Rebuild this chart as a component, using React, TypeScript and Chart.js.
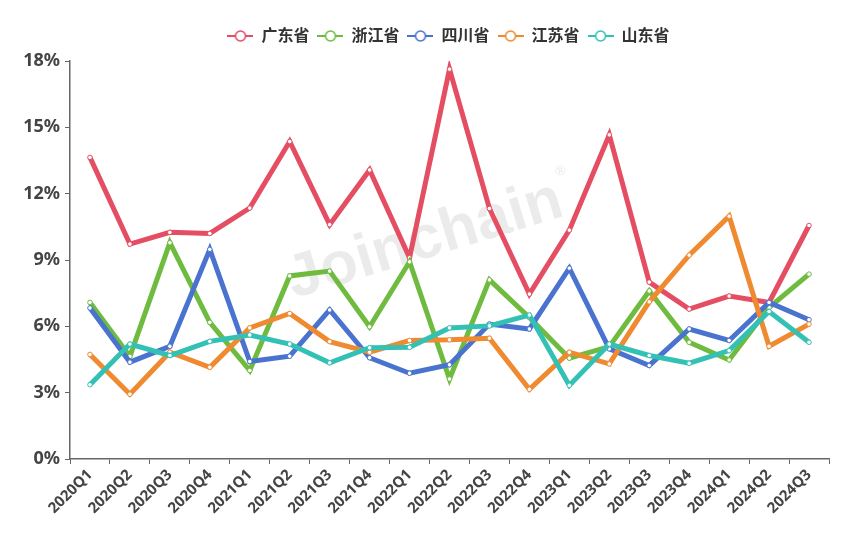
import { useEffect, useRef } from "react";
import { Chart, registerables } from "chart.js";
import type { Plugin as ChartPlugin, LegendItem } from "chart.js";

Chart.register(...registerables);

const quarters = [
    "2020Q1", "2020Q2", "2020Q3", "2020Q4",
    "2021Q1", "2021Q2", "2021Q3", "2021Q4",
    "2022Q1", "2022Q2", "2022Q3", "2022Q4",
    "2023Q1", "2023Q2", "2023Q3", "2023Q4",
    "2024Q1", "2024Q2", "2024Q3",
];

const provinces = ["广东省", "浙江省", "四川省", "江苏省", "山东省"];
const lineColors = ["#e44d62", "#6fbb3f", "#4a72cf", "#ef8a31", "#33c1b6"];

const guangdong = [13.64, 9.72, 10.25, 10.2, 11.35, 14.36, 10.6, 13.07, 9.1, 17.63, 11.33, 7.46, 10.35, 14.66, 8.0, 6.78, 7.37, 7.08, 10.56];
const zhejiang = [7.08, 4.64, 9.78, 6.18, 4.0, 8.28, 8.5, 5.98, 8.92, 3.62, 8.1, 6.4, 4.56, 5.08, 7.6, 5.28, 4.48, 6.85, 8.36];
const sichuan = [6.83, 4.38, 5.1, 9.48, 4.41, 4.65, 6.74, 4.58, 3.88, 4.26, 6.1, 5.88, 8.63, 4.98, 4.23, 5.88, 5.36, 7.08, 6.3];
const jiangsu = [4.73, 2.93, 4.83, 4.15, 5.93, 6.58, 5.31, 4.83, 5.36, 5.39, 5.46, 3.15, 4.83, 4.3, 7.11, 9.22, 10.98, 5.1, 6.1];
const shandong = [3.36, 5.2, 4.68, 5.32, 5.61, 5.2, 4.35, 5.03, 5.05, 5.93, 6.02, 6.51, 3.33, 5.2, 4.68, 4.33, 4.9, 6.67, 5.28];

const seriesValues = [guangdong, zhejiang, sichuan, jiangsu, shandong];

const FONT = "'Noto Sans', 'Noto Sans CJK SC', sans-serif";

function makeLegendIcon(color: string): HTMLCanvasElement {
    const c = document.createElement("canvas");
    c.width = 26;
    c.height = 14;
    const ctx = c.getContext("2d")!;
    ctx.strokeStyle = color;
    ctx.lineWidth = 2;
    ctx.beginPath();
    ctx.moveTo(0, 7);
    ctx.lineTo(26, 7);
    ctx.stroke();
    ctx.beginPath();
    ctx.arc(13, 7, 5, 0, Math.PI * 2);
    ctx.fillStyle = "#fff";
    ctx.fill();
    ctx.lineWidth = 1.6;
    ctx.stroke();
    return c;
}

// nudge the legend so it sits where the original one does
const legendShiftPlugin: ChartPlugin = {
    id: "legendShift",
    afterLayout: (chart: Chart) => {
        const legend = chart.legend;
        if (!legend) return;
        legend.left += 34;
        legend.right += 34;
        legend.top -= 7;
        legend.bottom -= 7;
    }
};

const watermarkPlugin: ChartPlugin = {
    id: "watermark",
    beforeDatasetsDraw: (chart: Chart) => {
        const ctx = chart.ctx;
        ctx.save();
        ctx.translate(430, 257);
        ctx.rotate(-17 * Math.PI / 180);
        ctx.fillStyle = "rgba(0,0,0,0.08)";
        ctx.font = "bold 61px 'Liberation Sans', sans-serif";
        ctx.textAlign = "center";
        ctx.textBaseline = "alphabetic";
        ctx.fillText("Joinchain", 0, 0);
        ctx.font = "bold 14px 'Liberation Sans', sans-serif";
        ctx.fillText("®", 150, -40);
        ctx.restore();
    }
};

function App() {
    const canvasRef = useRef<HTMLCanvasElement>(null);

    useEffect(() => {
        if (!canvasRef.current) {
            return;
        }
        const icons = lineColors.map(makeLegendIcon);
        const chart = new Chart(canvasRef.current, {
            type: "line",
            data: {
                labels: quarters,
                datasets: provinces.map((name, i) => ({
                    label: name,
                    data: seriesValues[i],
                    borderColor: lineColors[i],
                    backgroundColor: lineColors[i],
                    borderWidth: 5,
                    tension: 0,
                    pointRadius: 2.3,
                    pointBorderWidth: 1,
                    pointBackgroundColor: "#fff",
                    pointBorderColor: lineColors[i],
                    order: provinces.length - i,
                })),
            },
            options: {
                animation: false,
                responsive: true,
                maintainAspectRatio: false,
                layout: {
                    padding: { top: 27, right: 38, bottom: 0, left: 0 }
                },
                scales: {
                    x: {
                        offset: true,
                        afterFit: (scale) => {
                            scale.height = 84;
                        },
                        grid: {
                            offset: true,
                            drawOnChartArea: false,
                            drawTicks: true,
                            tickLength: 5,
                            color: "#666",
                        },
                        border: { display: true, color: "#666", width: 1.5 },
                        ticks: {
                            minRotation: 45,
                            maxRotation: 45,
                            autoSkip: false,
                            padding: 2,
                            color: "#444",
                            font: { family: FONT, size: 15, weight: "bold" },
                        }
                    },
                    y: {
                        min: 0,
                        max: 18,
                        afterFit: (scale) => {
                            scale.width = 70;
                        },
                        grid: {
                            drawOnChartArea: false,
                            drawTicks: true,
                            tickLength: 5,
                            color: "#666",
                        },
                        border: { display: true, color: "#666", width: 1.5 },
                        ticks: {
                            stepSize: 3,
                            padding: 5,
                            color: "#444",
                            font: { family: FONT, size: 18, weight: "bold" },
                            callback: (v) => `${v}%`,
                        }
                    }
                },
                plugins: {
                    tooltip: { enabled: false },
                    legend: {
                        display: true,
                        position: "top",
                        labels: {
                            usePointStyle: true,
                            pointStyleWidth: 26,
                            padding: 8,
                            color: "#333",
                            font: { family: FONT, size: 16, weight: "bold" },
                            sort: (a: LegendItem, b: LegendItem) => (a.datasetIndex ?? 0) - (b.datasetIndex ?? 0),
                            generateLabels: (c: Chart) => {
                                const items = Chart.defaults.plugins.legend.labels.generateLabels(c);
                                return items.map((item) => ({
                                    ...item,
                                    pointStyle: icons[item.datasetIndex ?? 0],
                                }));
                            }
                        }
                    }
                }
            },
            plugins: [legendShiftPlugin, watermarkPlugin]
        });

        return () => {
            chart.destroy();
        };
    }, []);

    return (
        <div style={{ position: "fixed", left: 0, top: 0, width: 867, height: 543, background: "#fff" }}>
            <canvas ref={canvasRef} />
        </div>
    );
}

export default App;
